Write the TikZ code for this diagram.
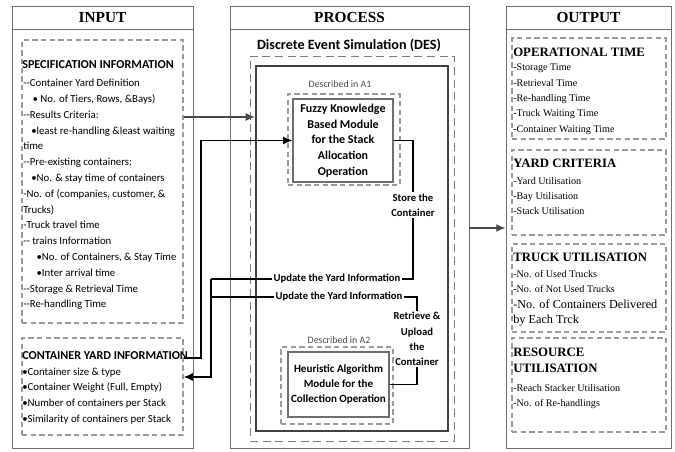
\documentclass[tikz,border=0pt]{standalone}
\usepackage{fontspec}
\setmainfont{Liberation Serif}
\newfontfamily\calibri{Carlito}
\usetikzlibrary{
arrows.meta,
positioning,
calc,
fit
}
\definecolor{FrameGray}{HTML}{6E6E6E}
\definecolor{DashGray}{HTML}{9A9A9A}
\definecolor{ArrowGray}{HTML}{4A4A4A}

\tikzset{
    colbox/.style={
        draw=FrameGray,
        line width=0.6pt,
        inner sep=0pt
    },
    headtext/.style={
        font=\bfseries\fontsize{11.5}{12}\selectfont
    },
    listbox/.style={
        draw=DashGray,
        line width=0.8pt,
        dash pattern=on 4pt off 2.5pt,
        inner sep=0pt
    },
    intitle/.style={
        font=\calibri\bfseries\fontsize{9.1}{10}\selectfont,
        inner sep=0pt,
        anchor=base west
    },
    inbody/.style={
        font=\calibri\fontsize{8.1}{11.85}\selectfont,
        align=left,
        inner sep=0pt,
        anchor=north west
    },
    outtitle/.style={
        font=\bfseries\fontsize{9.6}{12}\selectfont,
        align=left,
        inner sep=0pt,
        anchor=north west
    },
    outbody/.style={
        font=\fontsize{7.6}{11.5}\selectfont,
        align=left,
        inner sep=0pt,
        anchor=north west
    },
    desbox/.style={
        draw=black!75,
        line width=1.6pt,
        inner sep=0pt
    },
    desdash/.style={
        draw=DashGray!80!black,
        line width=0.7pt,
        dash pattern=on 6pt off 3.5pt,
        inner sep=0pt
    },
    moddash/.style={
        draw=DashGray,
        line width=1pt,
        dash pattern=on 4pt off 2.5pt,
        inner sep=0pt
    },
    modbox/.style={
        draw=FrameGray,
        line width=0.9pt,
        font=\calibri\bfseries\fontsize{8.3}{11.6}\selectfont,
        align=center,
        inner sep=0pt
    },
    smalltag/.style={
        font=\calibri\fontsize{7.4}{9}\selectfont,
        text=black!70,
        inner sep=0pt
    },
    flowtag/.style={
        font=\calibri\bfseries\fontsize{8}{11.5}\selectfont,
        align=center,
        inner sep=1pt
    },
    blackline/.style={
        draw=black,
        line width=1.1pt
    },
    blackarrow/.style={
        blackline,
        -{Latex[length=7pt,width=6pt]}
    },
    grayarrow/.style={
        draw=ArrowGray,
        line width=1pt,
        -{Latex[length=7pt,width=6pt]}
    }
}

\begin{document}
\begin{tikzpicture}[
    x=0.75pt,
    y=-0.75pt
]

\useasboundingbox (0,0) rectangle (675,452);

% =========================
% INPUT COLUMN
% =========================
\node[colbox, fit={(12,6) (193,448)}] (input) {};
\node[colbox, fit={(12,6) (193,29)}] (inhead) {};
\node[headtext] at (inhead) {INPUT};

\node[listbox, fit={(22,40) (183,323)}] (spec) {};
\node[intitle] (spectitle) at (22,69) {SPECIFICATION INFORMATION};
\node[inbody] (spectext) at (23,79)
{--Container Yard Definition\\
\hspace*{7pt}\textbullet{} No. of Tiers, Rows, \&Bays)\\
--Results Criteria:\\
\hspace*{6pt}\textbullet least re-handling \&least waiting\\
time\\
--Pre-existing containers:\\
\hspace*{6pt}\textbullet No. \& stay time of containers\\
-No. of (companies, customer, \&\\
Trucks)\\
-Truck travel time\\
-- trains Information\\
\hspace*{10pt}\textbullet No. of Containers, \& Stay Time\\
\hspace*{10pt}\textbullet Inter arrival time\\
--Storage \& Retrieval Time\\
--Re-handling Time};

\node[listbox, fit={(22,338) (183,435)}] (cybox) {};
\node[intitle] (cytitle) at (22,360) {CONTAINER YARD INFORMATION};
\node[inbody] (cytext) at (22,367.5)
{\textbullet Container size \& type\\
\textbullet Container Weight (Full, Empty)\\
\textbullet Number of containers per Stack\\
\textbullet Similarity of containers per Stack};

% =========================
% PROCESS COLUMN
% =========================
\node[colbox, fit={(230,6) (469,448)}] (process) {};
\node[colbox, fit={(230,6) (469,29)}] (prochead) {};
\node[headtext] at (prochead) {PROCESS};

\node[
    font=\calibri\bfseries\fontsize{10.6}{12}\selectfont
]
(destitle) at (349,45)
{Discrete Event Simulation (DES)};

\node[desdash, fit={(250,56) (454,441)}] (desdash) {};
\node[desbox, fit={(256,66) (448,431)}] (des) {};

% fuzzy module (A1)
\node[smalltag] (taga) at (340,84) {Described in A1};
\node[moddash, fit={(288,94) (400,185)}] (a1dash) {};
\node[
    modbox,
    font=\calibri\bfseries\fontsize{9}{11.8}\selectfont,
    minimum width=75pt,
    minimum height=62.25pt
]
(a1) at (343,140.5)
{Fuzzy Knowledge\\Based Module\\for the Stack\\Allocation\\Operation};

% heuristic module (A2)
\node[smalltag] (tagb) at (339,340) {Described in A2};
\node[moddash, fit={(281,347) (393,424)}] (a2dash) {};
\node[
    modbox,
    minimum width=75.75pt,
    minimum height=48.75pt
]
(a2) at (338.5,384.5)
{Heuristic Algorithm\\Module for the\\Collection Operation};

% flow labels
\node[flowtag] (store) at (413,205) {Store the\\Container};
\node[flowtag] (updatea) at (337,279) {Update the Yard Information};
\node[flowtag] (updateb) at (339,297) {Update the Yard Information};
\node[flowtag] (retrieve) at (417,339) {Retrieve \&\\Upload\\the\\Container};

% =========================
% OUTPUT COLUMN
% =========================
\node[colbox, fit={(506,6) (671,448)}] (output) {};
\node[colbox, fit={(506,6) (671,29)}] (outhead) {};
\node[headtext] at (outhead) {OUTPUT};

\node[listbox, fit={(512,38) (666,139)}] (optime) {};
\node[outtitle] (optitle) at (513,48) {OPERATIONAL TIME};
\node[outbody] (optext) at (513,64)
{-Storage Time\\-Retrieval Time\\-Re-handling Time\\-Truck Waiting Time\\-Container Waiting Time};

\node[listbox, fit={(512,150) (666,235)}] (yard) {};
\node[outtitle] (yardtitle) at (513,159) {YARD CRITERIA};
\node[outbody] (yardtext) at (513,177)
{-Yard Utilisation\\-Bay Utilisation\\-Stack Utilisation};

\node[listbox, fit={(512,244) (666,332)}] (truck) {};
\node[outtitle] (trucktitle) at (513,253) {TRUCK UTILISATION};
\node[outbody] (trucktext) at (513,270)
{-No. of Used Trucks\\-No. of Not Used Trucks\\{\fontsize{9.2}{13.2}\selectfont -No. of Containers Delivered}\\{\fontsize{9.2}{13.2}\selectfont by Each Trck}};

\node[listbox, fit={(512,338) (666,432)}] (resource) {};
\node[outtitle] (restitle) at (513,348) {RESOURCE\\UTILISATION};
\node[outbody] (restext) at (513,384)
{-Reach Stacker Utilisation\\-No. of Re-handlings};

% =========================
% CONNECTORS
% =========================
\coordinate (lanea) at (201,0);
\coordinate (laneb) at (211,0);

% input to simulation
\draw[grayarrow] (spec.east |- 0,117) -- (des.west |- 0,117);

% yard information into fuzzy module
\draw[blackarrow] (cybox.east |- 0,358) -| (lanea |- a1.west) -- (a1.west);

% store and update
\draw[blackline] (a1.east) -| (store.north);
\draw[blackline] (store.south) |- (updatea.east);
\draw[blackline] (updatea.west) -- (laneb |- updatea.west);

% retrieve and update
\draw[blackline] (a2.east) -| (retrieve.south);
\draw[blackline] (retrieve.north) |- (updateb.east);
\draw[blackline] (updateb.west) -- (laneb |- updateb.west);

% back to container yard
\draw[blackarrow] (laneb |- updatea.west) |- (cybox.east |- 0,377);

% simulation to output
\draw[grayarrow] (process.east |- 0,228) -- (output.west |- 0,228);

\end{tikzpicture}
\end{document}
